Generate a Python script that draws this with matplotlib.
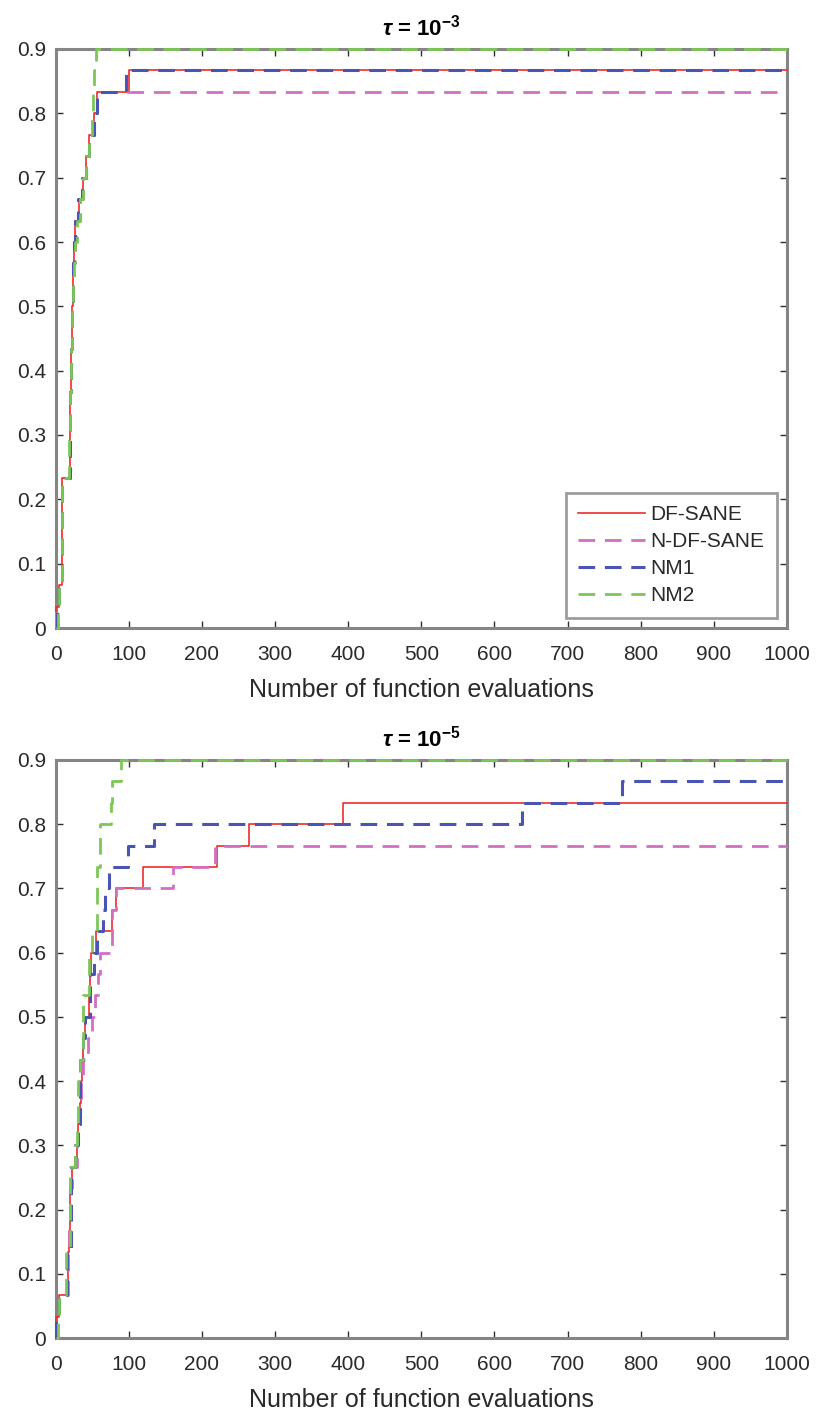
import matplotlib
matplotlib.use("Agg")
import matplotlib.pyplot as plt
import numpy as np

plt.rcParams['font.family'] = ['Liberation Sans', 'DejaVu Sans']
plt.rcParams['mathtext.fontset'] = 'custom'
plt.rcParams['mathtext.rm'] = 'Liberation Sans:bold'
plt.rcParams['mathtext.it'] = 'Liberation Sans:italic:bold'
plt.rcParams['mathtext.bf'] = 'Liberation Sans:bold'
plt.rcParams['lines.scale_dashes'] = False

n_problems = 30
solvers = ['DF-SANE', 'N-DF-SANE', 'NM1', 'NM2']
colors = ['#ef2b2b', '#d36fc3', '#4a55b3', '#7cc756']
styles = ['-', '--', '--', '--']
widths = [1.2, 2.0, 2.2, 2.0]

# ---- tau = 1e-3 : breakpoints (function evaluations) and number of solved problems
top_df_x = [0, 1, 4, 9, 19, 20, 21, 22, 23, 24, 25, 27, 32, 37, 41, 45, 52, 57, 100, 1000]
top_df_k = [0, 1, 2, 7, 9, 11, 13, 15, 16, 17, 18, 19, 20, 21, 22, 23, 24, 25, 26, 26]
top_ndf_x = [0, 1, 4, 9, 19, 20, 21, 22, 23, 24, 26, 28, 33, 38, 42, 46, 53, 57, 1000]
top_ndf_k = [0, 1, 2, 7, 9, 11, 13, 15, 16, 17, 18, 19, 20, 21, 22, 23, 24, 25, 25]
top_nm1_x = [0, 2, 5, 9, 19, 20, 21, 22, 23, 24, 25, 26, 30, 36, 41, 46, 52, 56, 96, 1000]
top_nm1_k = [0, 1, 2, 7, 9, 11, 13, 15, 16, 17, 18, 19, 20, 21, 22, 23, 24, 25, 26, 26]
top_nm2_x = [0, 3, 5, 9, 18, 20, 21, 22, 23, 25, 27, 29, 33, 38, 42, 46, 49, 51, 53, 55, 1000]
top_nm2_k = [0, 1, 2, 7, 9, 11, 13, 15, 16, 17, 18, 19, 20, 21, 22, 23, 24, 25, 26, 27, 27]

# ---- tau = 1e-5
bot_df_x = [0, 1, 5, 17, 18, 19, 20, 22, 29, 31, 33, 35, 36, 38, 40, 46, 47, 48, 55, 77, 82, 120, 220, 265, 393, 1000]
bot_df_k = [0, 1, 2, 4, 5, 6, 7, 8, 9, 10, 11, 12, 13, 14, 15, 16, 17, 18, 19, 20, 21, 22, 23, 24, 25, 25]
bot_ndf_x = [0, 1, 5, 17, 18, 19, 20, 22, 29, 31, 33, 35, 38, 44, 50, 54, 58, 61, 77, 82, 161, 218, 1000]
bot_ndf_k = [0, 1, 2, 4, 5, 6, 7, 8, 9, 10, 11, 12, 13, 14, 15, 16, 17, 18, 20, 21, 22, 23, 23]
bot_nm1_x = [0, 1, 5, 16, 21, 27, 30, 33, 38, 40, 47, 52, 57, 65, 68, 73, 99, 135, 638, 774, 1000]
bot_nm1_k = [0, 1, 2, 4, 8, 9, 10, 13, 14, 15, 17, 18, 19, 20, 21, 22, 23, 24, 25, 26, 26]
bot_nm2_x = [0, 3, 5, 14, 20, 26, 29, 31, 33, 38, 45, 50, 57, 61, 75, 77, 89, 1000]
bot_nm2_k = [0, 1, 2, 4, 8, 9, 10, 12, 13, 16, 18, 19, 22, 24, 25, 26, 27, 27]

panels = [
    (r'$\tau$ = 10$^{-3}$', [(top_df_x, top_df_k), (top_ndf_x, top_ndf_k), (top_nm1_x, top_nm1_k), (top_nm2_x, top_nm2_k)]),
    (r'$\tau$ = 10$^{-5}$', [(bot_df_x, bot_df_k), (bot_ndf_x, bot_ndf_k), (bot_nm1_x, bot_nm1_k), (bot_nm2_x, bot_nm2_k)]),
]

x_ticks = [0, 100, 200, 300, 400, 500, 600, 700, 800, 900, 1000]
y_ticks = [0, 0.1, 0.2, 0.3, 0.4, 0.5, 0.6, 0.7, 0.8, 0.9]
y_ticklabels = ['0', '0.1', '0.2', '0.3', '0.4', '0.5', '0.6', '0.7', '0.8', '0.9']

fig = plt.figure(figsize=(8.16, 14.14), dpi=100)
W, H = 816, 1414
ax_rects = [
    (55.7 / W, 1 - 628 / H, (787 - 55.7) / W, (628 - 49) / H),
    (55.7 / W, 1 - 1338 / H, (787 - 55.7) / W, (1338 - 760) / H),
]

spine_gray = '#858585'
tick_col = '#2a2a2a'

for idx, (rect, (title, series)) in enumerate(zip(ax_rects, panels)):
    ax = fig.add_axes(rect)
    for (xs, ks), name, c, ls, lw in zip(series, solvers, colors, styles, widths):
        ys = np.array(ks) / n_problems
        line, = ax.plot(xs, ys, drawstyle='steps-post', color=c, linestyle=ls,
                        linewidth=lw, label=name, clip_on=False, zorder=3)
        if ls == '--':
            line.set_dashes((12, 7))
    ax.set_xlim(0, 1000)
    ax.set_ylim(0, 0.9)
    ax.set_xticks(x_ticks)
    ax.set_yticks(y_ticks)
    ax.set_yticklabels(y_ticklabels)
    for sp in ax.spines.values():
        sp.set_color(spine_gray)
        sp.set_linewidth(2.2)
        sp.set_zorder(2.5)
    ax.tick_params(direction='in', length=5, width=1.0, color='#303030',
                   top=True, right=True, labelsize=15, labelcolor=tick_col)
    ax.tick_params(axis='x', pad=12)
    ax.tick_params(axis='y', pad=7)
    ax.set_xlabel('Number of function evaluations', fontsize=18, color=tick_col, labelpad=10)
    ax.set_title(title, fontsize=16, fontweight='bold', pad=10)
    if idx == 0:
        leg = ax.legend(loc='lower right', fontsize=15, frameon=True, fancybox=False,
                        edgecolor=spine_gray, handlelength=3.2, handletextpad=0.25,
                        labelspacing=0.38, borderpad=0.6, borderaxespad=0.5)
        leg.get_frame().set_linewidth(2.0)
        for t in leg.get_texts():
            t.set_color(tick_col)

fig.savefig('out.png', dpi=100)
